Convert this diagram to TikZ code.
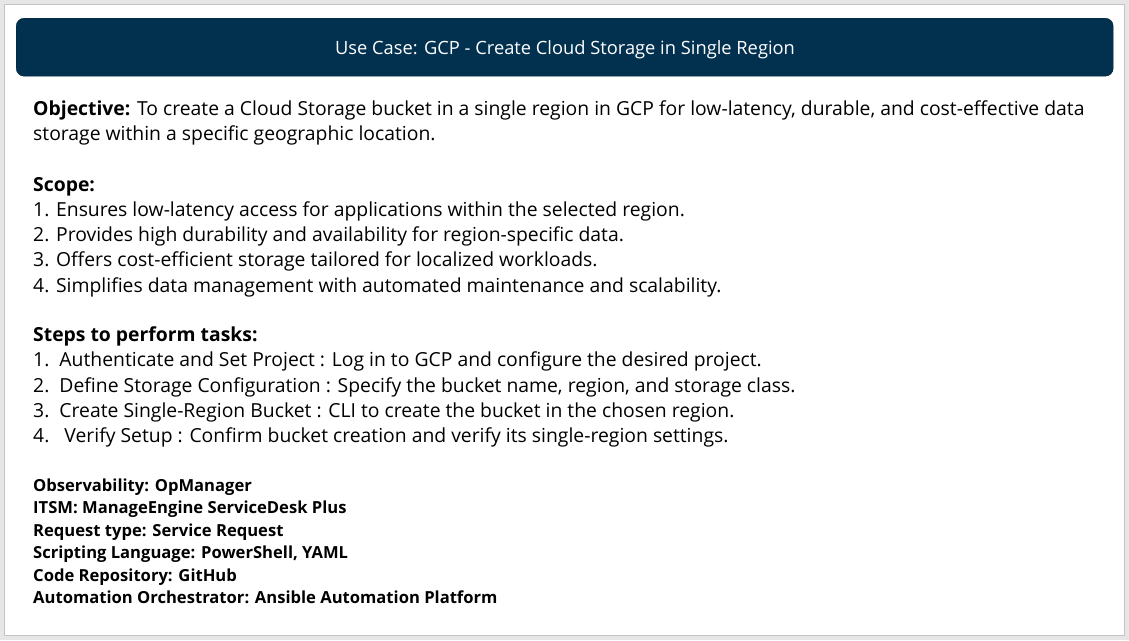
\documentclass[tikz,border=0pt]{standalone}
\usepackage{fontspec}
\setmainfont{Open Sans}
\definecolor{hdr}{HTML}{02304F}
\definecolor{bg}{HTML}{E6E6E6}
\definecolor{edge}{HTML}{C4C4C4}
\begin{document}
\begin{tikzpicture}[x=1pt,y=-1pt,
  body/.style={anchor=base west,inner sep=0pt,font=\fontsize{19.35}{22}\selectfont},
  small/.style={anchor=base west,inner sep=0pt,font=\fontsize{16.6}{19}\selectfont\bfseries}]
\useasboundingbox (0,0) rectangle (1129,640);
\fill[bg] (0,0) rectangle (1129,640);
\draw[edge,fill=white] (4.5,4.5) rectangle (1124.5,635.5);
\node[draw=hdr!70!black,fill=hdr,rounded corners=8pt,minimum width=1097pt,minimum height=58pt,anchor=north west,inner sep=0pt] (h) at (16,18) {};
\node[anchor=base,inner sep=0pt,text=white,font=\fontsize{18.3}{21}\selectfont] (t) at (565,54) {Use Case: GCP - Create Cloud Storage in Single Region};
\node[body] (o1) at (33,115) {\textbf{Objective:} To create a Cloud Storage bucket in a single region in GCP for low-latency, durable, and cost-effective data};
\node[body] (o2) at (33,140) {storage within a specific geographic location.};
\node[body] (s0) at (33,191) {\textbf{Scope:}};
\node[body] (s1) at (33,216) {1. Ensures low-latency access for applications within the selected region.};
\node[body] (s2) at (33,241) {2. Provides high durability and availability for region-specific data.};
\node[body] (s3) at (33,266) {3. Offers cost-efficient storage tailored for localized workloads.};
\node[body] (s4) at (33,292) {4. Simplifies data management with automated maintenance and scalability.};
\node[body] (p0) at (33,341) {\textbf{Steps to perform tasks:}};
\node[body] (p1) at (33,366) {1.\ \ Authenticate and Set Project : Log in to GCP and configure the desired project.};
\node[body] (p2) at (33,392) {2.\ \ Define Storage Configuration : Specify the bucket name, region, and storage class.};
\node[body] (p3) at (33,417) {3.\ \ Create Single-Region Bucket : CLI to create the bucket in the chosen region.};
\node[body] (p4) at (33,442) {4.\ \ \ Verify Setup : Confirm bucket creation and verify its single-region settings.};
\node[small] (b1) at (33,491) {Observability: OpManager};
\node[small] (b2) at (33,513.5) {ITSM: ManageEngine ServiceDesk Plus};
\node[small] (b3) at (33,536) {Request type: Service Request};
\node[small] (b4) at (33,558) {Scripting Language: PowerShell, YAML};
\node[small] (b5) at (33,581) {Code Repository: GitHub};
\node[small] (b6) at (33,603) {Automation Orchestrator: Ansible Automation Platform};
\end{tikzpicture}
\end{document}
